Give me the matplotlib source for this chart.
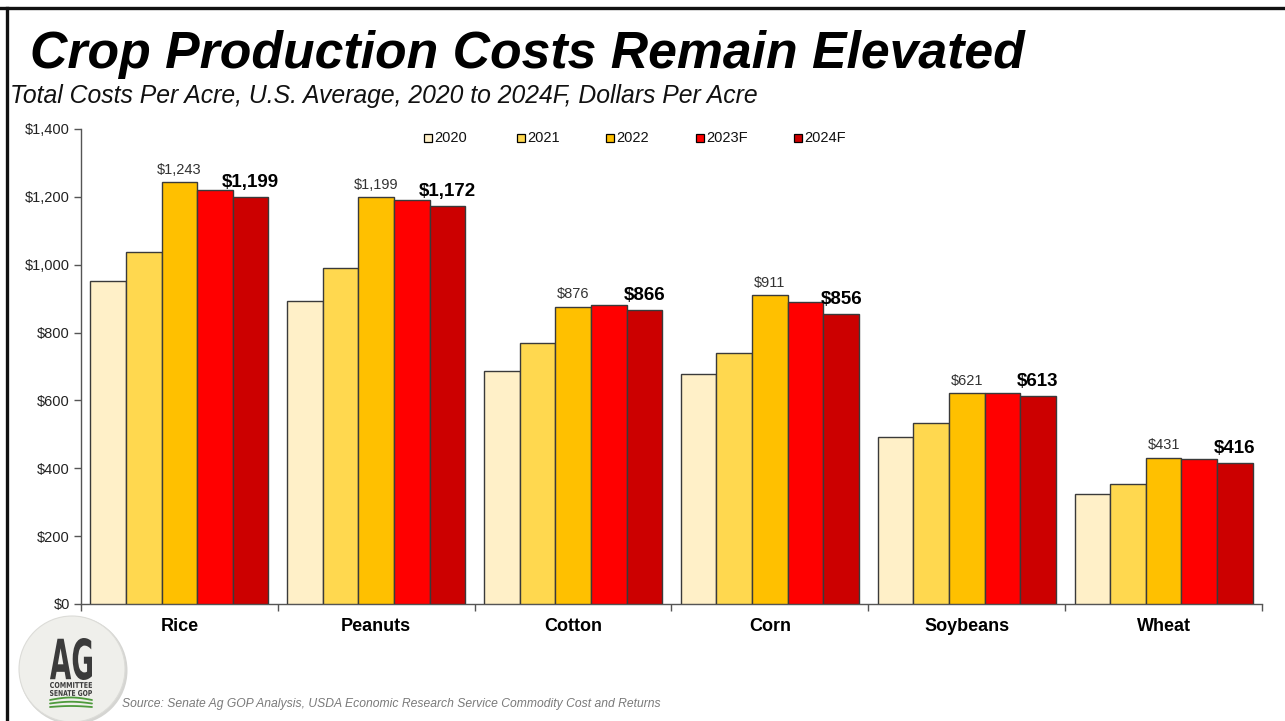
import numpy as np
import matplotlib
matplotlib.use("Agg")
import matplotlib.pyplot as plt
from matplotlib import font_manager
from matplotlib.patches import Rectangle, Circle, PathPatch
from matplotlib.lines import Line2D
from matplotlib.textpath import TextPath
from matplotlib.font_manager import FontProperties
from matplotlib.transforms import Affine2D

# ---- data: total costs per acre, dollars ----
crops = ["Rice", "Peanuts", "Cotton", "Corn", "Soybeans", "Wheat"]
years = ["2020", "2021", "2022", "2023F", "2024F"]
cost_2020 = [953, 894, 688, 679, 492, 324]
cost_2021 = [1036, 991, 768, 740, 533, 355]
cost_2022 = [1243, 1199, 876, 911, 621, 431]
cost_2023 = [1221, 1191, 881, 889, 623, 426]
cost_2024 = [1199, 1172, 866, 856, 613, 416]
series = [cost_2020, cost_2021, cost_2022, cost_2023, cost_2024]
colors = ["#FFF0C8", "#FFD84F", "#FFC000", "#FF0000", "#CC0000"]
y_ticks = [0, 200, 400, 600, 800, 1000, 1200, 1400]

installed = {f.name for f in font_manager.fontManager.ttflist}
BASE = "Liberation Sans" if "Liberation Sans" in installed else "DejaVu Sans"
NARROW = "Liberation Sans Narrow" if "Liberation Sans Narrow" in installed else BASE
plt.rcParams["font.family"] = [BASE, "DejaVu Sans"]

W, H = 1285, 721
fig = plt.figure(figsize=(W / 100, H / 100), dpi=100)
fig.patch.set_facecolor("white")

ax = fig.add_axes([81 / W, 1 - 604 / H, (1262 - 81) / W, (604 - 129) / H])

n = len(series)
bar_w = 0.181
x = np.arange(len(crops))
edge = "#3a3a3a"
for i, (vals, c) in enumerate(zip(series, colors)):
    pos = x + (i - (n - 1) / 2) * bar_w
    ax.bar(pos, vals, width=bar_w, color=c, edgecolor=edge, linewidth=1.0,
           label=years[i], zorder=3)
    if i == 2:
        for px, v in zip(pos, vals):
            ax.annotate(f"${v:,}", (px, v), xytext=(0, 6), textcoords="offset points",
                        ha="center", va="baseline", fontsize=10.5, color="#333333")
    if i == 4:
        for px, v in zip(pos, vals):
            ax.annotate(f"${v:,}", (px, v), xytext=(0, 7.2), textcoords="offset points",
                        ha="center", va="baseline", fontsize=13.5, fontweight="bold",
                        color="#000000", zorder=5)

ax.set_xlim(-0.5, len(crops) - 0.5)
ax.set_ylim(0, 1400)
ax.set_yticks(y_ticks)
ax.set_yticklabels([f"${v:,}" for v in y_ticks], fontsize=10.5, color="#222222")
ax.tick_params(axis="y", direction="out", length=5, width=1, color="#555555", pad=3)

# category boundaries as major ticks, names on minor ticks at centers
ax.set_xticks(np.arange(len(crops) + 1) - 0.5)
ax.set_xticklabels([])
ax.tick_params(axis="x", which="major", direction="out", length=5, width=1, color="#555555")
ax.set_xticks(x, minor=True)
ax.set_xticklabels(crops, minor=True, fontsize=13, fontweight="bold",
                   family=[NARROW, "DejaVu Sans"])
ax.tick_params(axis="x", which="minor", length=0, pad=10)

for s in ["top", "right"]:
    ax.spines[s].set_visible(False)
for s in ["left", "bottom"]:
    ax.spines[s].set_color("#555555")
    ax.spines[s].set_linewidth(1)

# legend drawn as a row of small swatches with labels
leg_x = [428, 521, 610, 700, 798]
leg_y = 138
for lx, lab, c in zip(leg_x, years, colors):
    fig.add_artist(Rectangle(((lx - 4) / W, 1 - (leg_y + 4) / H), 8 / W, 8 / H,
                             transform=fig.transFigure, facecolor=c,
                             edgecolor="#000000", linewidth=0.9))
    fig.text((lx + 6) / W, 1 - leg_y / H, lab, fontsize=10.5, va="center", ha="left",
             color="#111111")

# titles
fig.text(30 / W, 1 - 68 / H, "Crop Production Costs Remain Elevated", fontsize=37.3,
         fontweight="bold", fontstyle="italic", va="baseline", ha="left", color="#000000")
fig.text(10 / W, 1 - 103 / H, "Total Costs Per Acre, U.S. Average, 2020 to 2024F, Dollars Per Acre",
         fontsize=17.8, fontstyle="italic", va="baseline", ha="left", color="#111111")
fig.text(122 / W, 1 - 707 / H,
         "Source: Senate Ag GOP Analysis, USDA Economic Research Service Commodity Cost and Returns",
         fontsize=8.7, fontstyle="italic", va="baseline", ha="left", color="#7a7a7a")

# overlay in pixel units (y up) for the frame and logo
ov = fig.add_axes([0, 0, 1, 1], zorder=10)
ov.set_xlim(0, W)
ov.set_ylim(0, H)
ov.axis("off")
ov.patch.set_alpha(0)

ov.add_line(Line2D([0, W], [H - 8, H - 8], color="#111111", linewidth=2.4))
ov.add_line(Line2D([7, 7], [0, H - 8], color="#111111", linewidth=2.4))

cx, cy, r = 72, H - 669, 53
ov.add_patch(Circle((cx + 1.5, cy - 1.5), r + 1, facecolor="#d5d5d2", edgecolor="none"))
ov.add_patch(Circle((cx, cy), r, facecolor="#efefeb", edgecolor="#dcdcd8", linewidth=0.8))


def place_text(s, x0, y0, w, h, color, weight="bold"):
    tp = TextPath((0, 0), s, size=10, prop=FontProperties(family="DejaVu Sans", weight=weight))
    ext = tp.get_extents()
    tr = (Affine2D().translate(-ext.x0, -ext.y0)
          .scale(w / ext.width, h / ext.height).translate(x0, y0))
    ov.add_patch(PathPatch(tr.transform_path(tp), facecolor=color, edgecolor="none"))


place_text("AG", 50, H - 680, 42, 42, "#3b3b3b")
place_text("COMMITTEE", 50, H - 688, 42, 6, "#3b3b3b")
place_text("SENATE GOP", 50, H - 696, 42, 6, "#3b3b3b")

gx = np.linspace(50, 92, 60)
for k, off in enumerate([0, 3.5, 7]):
    gy = H - 700 - off + 2.5 * np.sin((gx - 50) / 42 * np.pi) * (1 - k * 0.3)
    ov.plot(gx, gy, color="#4e9a3c", linewidth=1.3, solid_capstyle="round")

fig.savefig("out.png", dpi=100, facecolor="white")
